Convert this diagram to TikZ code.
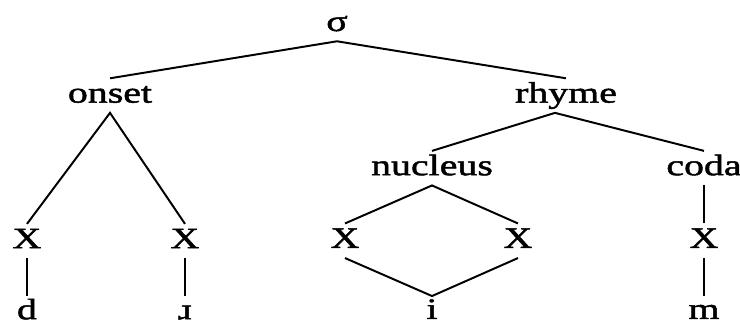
\documentclass[tikz,border=0pt]{standalone}
\usepackage{fontspec}
\setmainfont{Liberation Serif}[FakeStretch=1.35, FakeBold=1.6]
\usetikzlibrary{positioning}

\begin{document}
\begin{tikzpicture}[
                node distance=0.95cm,
                cat/.style={font=\fontsize{21}{25}\selectfont, inner xsep=0pt, inner ysep=2.1pt, text height=15pt, text depth=5pt},
                seg/.style={cat, text depth=0pt, inner ysep=1pt},
                branch/.style={line width=1.4pt, black}
            ]%
            \useasboundingbox (0,0) rectangle (18.5,-8.175);
            %
            % syllable
            \node[cat] (syl) at (8.425,-0.6) {σ};
            \node[cat, below=0.925cm of syl, xshift=-5.675cm] (onset) {onset};
            \node[cat, below=0.925cm of syl, xshift=5.725cm] (rhyme) {rhyme};
            %
            % === rhyme ===
            \node[cat, below=of rhyme, xshift=-3.35cm] (nucleus) {nucleus};
            \node[cat, below=of rhyme, xshift=3.45cm] (coda) {coda};
            %
            % === X tier ===
            \node[cat, below=2.775cm of onset, xshift=-2.075cm] (x1) {X};
            \node[cat, below=2.775cm of onset, xshift=1.875cm] (x2) {X};
            \node[cat, below=of nucleus, xshift=-2.175cm] (x3) {X};
            \node[cat, below=of nucleus, xshift=2.15cm] (x4) {X};
            \node[cat, below=of coda] (x5) {X};
            %
            % === segments ===
            \node[seg, below=0.95cm of x1] (d) {d};
            \node[seg, below=0.95cm of x2] (r) {ɹ};
            \node[seg, below=0.95cm of x3, xshift=2.175cm] (i) {i};
            \node[seg, below=0.95cm of x5] (m) {m};
            %
            % Ramas
            \draw[branch] (onset.north) -- (syl.south) -- (rhyme.north);
            \draw[branch] (x1.north) -- (onset.south) -- (x2.north);
            \draw[branch] (nucleus.north) -- ([xshift=-0.275cm]rhyme.south) -- (coda.north);
            \draw[branch] (x3.north) -- (nucleus.south) -- (x4.north);
            \draw[branch] (coda.south) -- (x5.north);
            %
            \draw[branch] (x1.south) -- (d.north);
            \draw[branch] (x2.south) -- (r.north);
            \draw[branch] (x3.south) -- (i.north) -- (x4.south);
            \draw[branch] (x5.south) -- (m.north);
        \end{tikzpicture}
\end{document}
